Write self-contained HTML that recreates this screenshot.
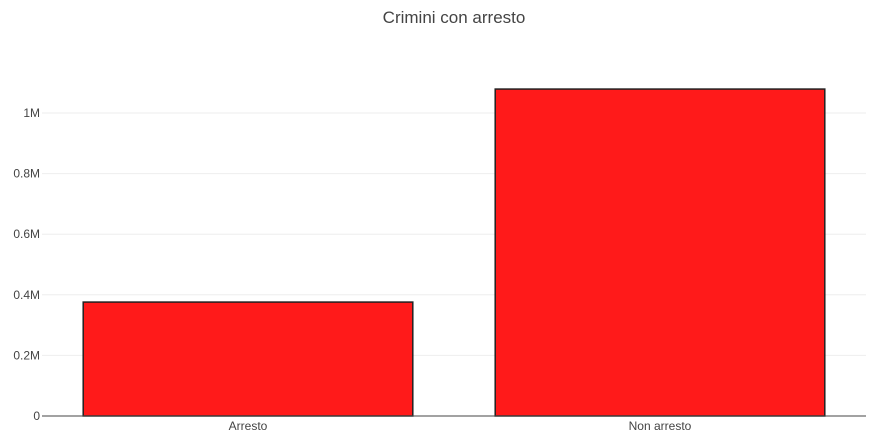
<!DOCTYPE html>
<html><head><meta charset="utf-8"><style>
body{margin:0;background:#fff;font-family:"Liberation Sans",sans-serif;}
svg text{font-family:"Liberation Sans",sans-serif;}
</style></head><body>
<svg width="877" height="442" id="chart">
<text x="454" y="23" text-anchor="middle" font-size="17" fill="#444">Crimini con arresto</text>
</svg>
<script>
const categories = ["Arresto", "Non arresto"];
const values = [376000, 1079000];
const yTicks = [0, 200000, 400000, 600000, 800000, 1000000];
const yTickLabels = ["0", "0.2M", "0.4M", "0.6M", "0.8M", "1M"];

const svg = document.getElementById('chart');
const NS = 'http://www.w3.org/2000/svg';
const x0 = 42, x1 = 866, yBase = 416, pxPerUnit = 303 / 1000000;
const y = v => yBase - v * pxPerUnit;
const band = (x1 - x0) / categories.length;
function mk(tag, attrs){const e=document.createElementNS(NS,tag);for(const k in attrs)e.setAttribute(k,attrs[k]);svg.appendChild(e);return e;}

yTicks.forEach((t,i)=>{
  if(t>0){
    const g = mk('line',{x1:x0,x2:x1,y1:y(t),y2:y(t),stroke:'#eee','stroke-width':1});
    
    
  }
  const l = mk('text',{x:x0-2,y:y(t)+4,'text-anchor':'end','font-size':12,fill:'#444'});
  l.textContent = yTickLabels[i];
  
  
});

categories.forEach((c,i)=>{
  const cx = x0 + band*(i+0.5), w = band*0.8;
  const r = mk('rect',{x:cx-w/2,y:y(values[i]),width:w,height:yBase-y(values[i]),fill:'#ff1a1a',stroke:'#222','stroke-width':1.5});
  
  
  const t = mk('text',{x:cx,y:yBase+14,'text-anchor':'middle','font-size':12,fill:'#444'});
  t.textContent = c;
  
  
});

const ax = mk('line',{x1:x0,x2:x1,y1:yBase,y2:yBase,stroke:'#444','stroke-width':1});


</script>
</body></html>
